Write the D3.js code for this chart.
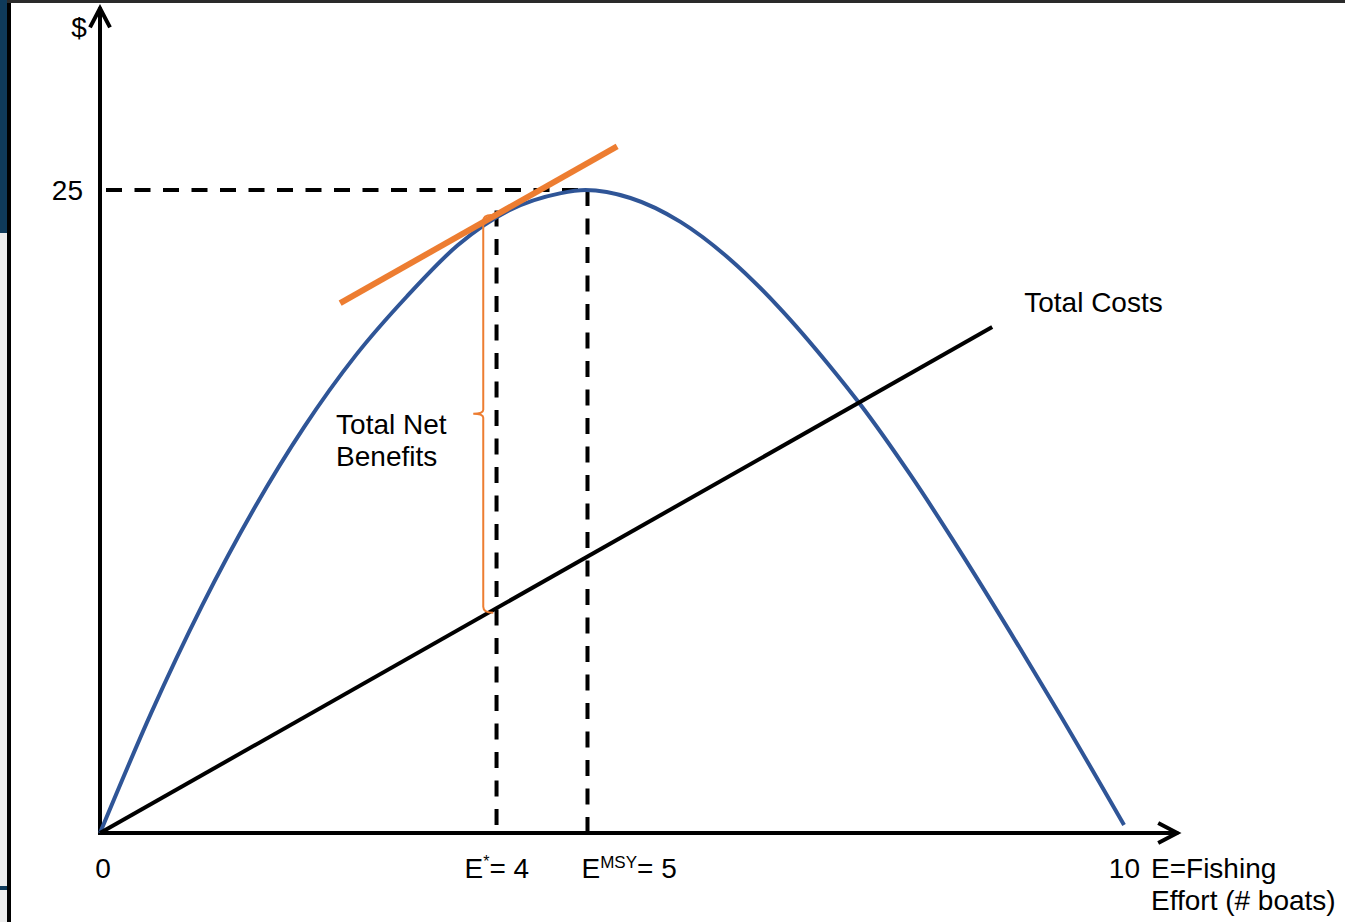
<!DOCTYPE html>
<html>
<head>
<meta charset="utf-8">
<script src="https://cdn.jsdelivr.net/npm/d3@7"></script>
<style>
    html, body { margin:0; padding:0; background:#fff; }
    svg { display:block; }
    text { font-family: Arial, 'Liberation Sans', sans-serif; fill:#000; }
</style>
</head>
<body>
<script>
// effort (boats) and total revenue ($)
var effort  = [0, 0.5, 1, 1.5, 2, 2.5, 3, 3.5, 4, 4.5, 4.75,
               5.19, 5.68, 6.16, 6.65, 7.14, 7.44, 7.93, 8.41, 8.90, 9.39, 10.02];
var revenue = [0, 4.66, 8.85, 12.56, 15.8, 18.56, 20.85, 22.85, 24.2, 24.87, 25.0,
               24.69, 23.76, 22.32, 20.41, 18.16, 16.66, 13.92, 10.99, 7.85, 4.62, 0.31];

// total costs line and the tangent (parallel to costs)
var costEffort  = [0, 8.73];
var costValue   = [0, 19.67];
var tangentEffort = [2.35, 5.06];
var tangentValue  = [20.6, 26.7];

// marked efforts
var eStar = 3.88;
var eMsy = 4.77;
var maxRevenue = 25;
var netBenefitEffort = 3.75;

// tick labels
var xTickValues = [0, eStar, eMsy, 10];
var xTickLabels = ['0', 'E*= 4', 'EMSY= 5', '10'];
var yTickValues = [25];
var yTickLabels = ['25'];

window.onload = function(){

    function createSVG(){
        return d3.select(document.body)
                .append('svg')
                .attr('width', 1345)
                .attr('height', 922);
    }

    function setBaseValue(){
        window.base = {};
        base.x = d3.scaleLinear().domain([0, 10]).range([100, 1122]);
        base.y = d3.scaleLinear().domain([0, 25]).range([833, 190]);
        base.xEnd = 10.55;
        base.yEnd = 32.1;
        base.font = 28;
    }

    function drawFrame(svg){
        // slide edge decoration
        svg.append('rect').attr('x',0).attr('y',0).attr('width',1345).attr('height',922).style('fill','#fff');
        svg.append('rect').attr('x',0).attr('y',0).attr('width',8).attr('height',233).style('fill','#0f3a5a');
        svg.append('rect').attr('x',0).attr('y',233).attr('width',8).attr('height',689).style('fill','#ececec');
        svg.append('rect').attr('x',0).attr('y',886).attr('width',8).attr('height',4).style('fill','#0f3a5a');
        svg.append('rect').attr('x',7).attr('y',0).attr('width',4).attr('height',922).style('fill','#000');
        svg.append('rect').attr('x',7).attr('y',0).attr('width',1338).attr('height',3).style('fill','#2a2a2a');
    }

    function drawAxes(svg){
        var x = base.x, y = base.y;
        var g = svg.append('g').style('stroke','#000').style('stroke-width',4).style('fill','none');

        g.append('line')
            .attr('x1', x(0)).attr('y1', y(0) + 2)
            .attr('x2', x(0)).attr('y2', y(base.yEnd));
        g.append('line')
            .attr('x1', x(0) - 2).attr('y1', y(0))
            .attr('x2', x(base.xEnd)).attr('y2', y(0));

        // arrow heads
        var tx = x(0), ty = y(base.yEnd);
        g.append('path')
            .attr('d', `M${tx-10},${ty+20} L${tx},${ty+1} L${tx+10},${ty+20}`)
            .style('stroke-linejoin','miter');
        var ax = x(base.xEnd), ay = y(0);
        g.append('path')
            .attr('d', `M${ax-20},${ay-10} L${ax-1},${ay} L${ax-20},${ay+10}`)
            .style('stroke-linejoin','miter');
    }

    function drawDashed(svg){
        var x = base.x, y = base.y;
        var g = svg.append('g')
            .style('stroke','#000').style('stroke-width',4)
            .style('stroke-dasharray','16,12.5').style('fill','none');

        g.append('line')
            .attr('x1', x(0) + 6).attr('y1', y(maxRevenue))
            .attr('x2', x(eMsy)).attr('y2', y(maxRevenue));
        g.append('line')
            .attr('x1', x(eMsy)).attr('y1', y(maxRevenue))
            .attr('x2', x(eMsy)).attr('y2', y(0));
        g.append('line')
            .attr('x1', x(eStar)).attr('y1', y(24.2))
            .attr('x2', x(eStar)).attr('y2', y(0));
    }

    function drawCurves(svg){
        var x = base.x, y = base.y;
        var rev = effort.map(function(d, i){ return [d, revenue[i]]; });
        var line = d3.line()
            .x(function(d){ return x(d[0]); })
            .y(function(d){ return y(d[1]); })
            .curve(d3.curveMonotoneX);

        svg.append('path')
            .datum(rev)
            .attr('d', line)
            .style('fill','none')
            .style('stroke','#2f5597')
            .style('stroke-width',4);

        var cost = costEffort.map(function(d, i){ return [d, costValue[i]]; });
        svg.append('path')
            .datum(cost)
            .attr('d', d3.line().x(function(d){ return x(d[0]); }).y(function(d){ return y(d[1]); }))
            .style('fill','none')
            .style('stroke','#000')
            .style('stroke-width',4);

        var tan = tangentEffort.map(function(d, i){ return [d, tangentValue[i]]; });
        svg.append('path')
            .datum(tan)
            .attr('d', d3.line().x(function(d){ return x(d[0]); }).y(function(d){ return y(d[1]); }))
            .style('fill','none')
            .style('stroke','#ed7d31')
            .style('stroke-width',6);
    }

    function drawBrace(svg){
        var x = base.x, y = base.y;
        var bx = x(netBenefitEffort);
        var top = y(24.03);
        var bottom = y(costValue[1] / costEffort[1] * netBenefitEffort) - 3;
        var mid = (top + bottom) / 2;

        var p = d3.path();
        p.moveTo(bx + 8, top);
        p.quadraticCurveTo(bx, top, bx, top + 6);
        p.lineTo(bx, mid - 4);
        p.quadraticCurveTo(bx, mid, bx - 10, mid);
        p.quadraticCurveTo(bx, mid, bx, mid + 4);
        p.lineTo(bx, bottom - 6);
        p.quadraticCurveTo(bx, bottom, bx + 10, bottom);

        svg.append('path')
            .attr('d', p.toString())
            .style('fill','none')
            .style('stroke','#ed7d31')
            .style('stroke-width',2);
    }

    function drawTexts(svg){
        var x = base.x, y = base.y, fs = base.font;
        var baseLine = y(0) + 45;

        // y axis
        svg.append('text').attr('x', x(0) - 21).attr('y', 37)
            .attr('text-anchor','middle').style('font-size', fs + 'px').text('$');
        svg.selectAll('.ytick').data(yTickValues).enter()
            .append('text')
            .attr('class','ytick')
            .attr('x', x(0) - 17)
            .attr('y', function(d){ return y(d) + 10; })
            .attr('text-anchor','end')
            .style('font-size', fs + 'px')
            .text(function(d, i){ return yTickLabels[i]; });

        // x axis ticks
        svg.append('text').attr('x', x(xTickValues[0]) + 3).attr('y', baseLine)
            .attr('text-anchor','middle').style('font-size', fs + 'px').text(xTickLabels[0]);

        var t1 = svg.append('text').attr('x', x(xTickValues[1]) - 32).attr('y', baseLine)
            .style('font-size', fs + 'px');
        t1.append('tspan').text('E');
        t1.append('tspan').attr('dy', -11).style('font-size','16px').text('*');
        t1.append('tspan').attr('dy', 11).text('= 4');

        var t2 = svg.append('text').attr('x', x(xTickValues[2]) - 6).attr('y', baseLine)
            .style('font-size', fs + 'px');
        t2.append('tspan').text('E');
        t2.append('tspan').attr('dy', -10).style('font-size','17px').text('MSY');
        t2.append('tspan').attr('dy', 10).text('= 5');

        svg.append('text').attr('x', x(xTickValues[3]) + 18).attr('y', baseLine)
            .attr('text-anchor','end').style('font-size', fs + 'px').text(xTickLabels[3]);

        // x axis title
        svg.append('text').attr('x', x(xTickValues[3]) + 29).attr('y', baseLine)
            .style('font-size', fs + 'px').text('E=Fishing');
        svg.append('text').attr('x', x(xTickValues[3]) + 29).attr('y', baseLine + 32)
            .style('font-size', fs + 'px').text('Effort (# boats)');

        // annotations
        svg.append('text').attr('x', x(costEffort[1]) + 32).attr('y', y(costValue[1]) - 15)
            .style('font-size', fs + 'px').text('Total Costs');
        svg.append('text').attr('x', x(2.31)).attr('y', y(15.5))
            .style('font-size', fs + 'px').text('Total Net');
        svg.append('text').attr('x', x(2.31)).attr('y', y(15.5) + 32)
            .style('font-size', fs + 'px').text('Benefits');
    }

    setBaseValue();
    var svg = createSVG();
    drawFrame(svg);
    drawDashed(svg);
    drawAxes(svg);
    drawCurves(svg);
    drawBrace(svg);
    drawTexts(svg);
}
</script>
</body>
</html>
